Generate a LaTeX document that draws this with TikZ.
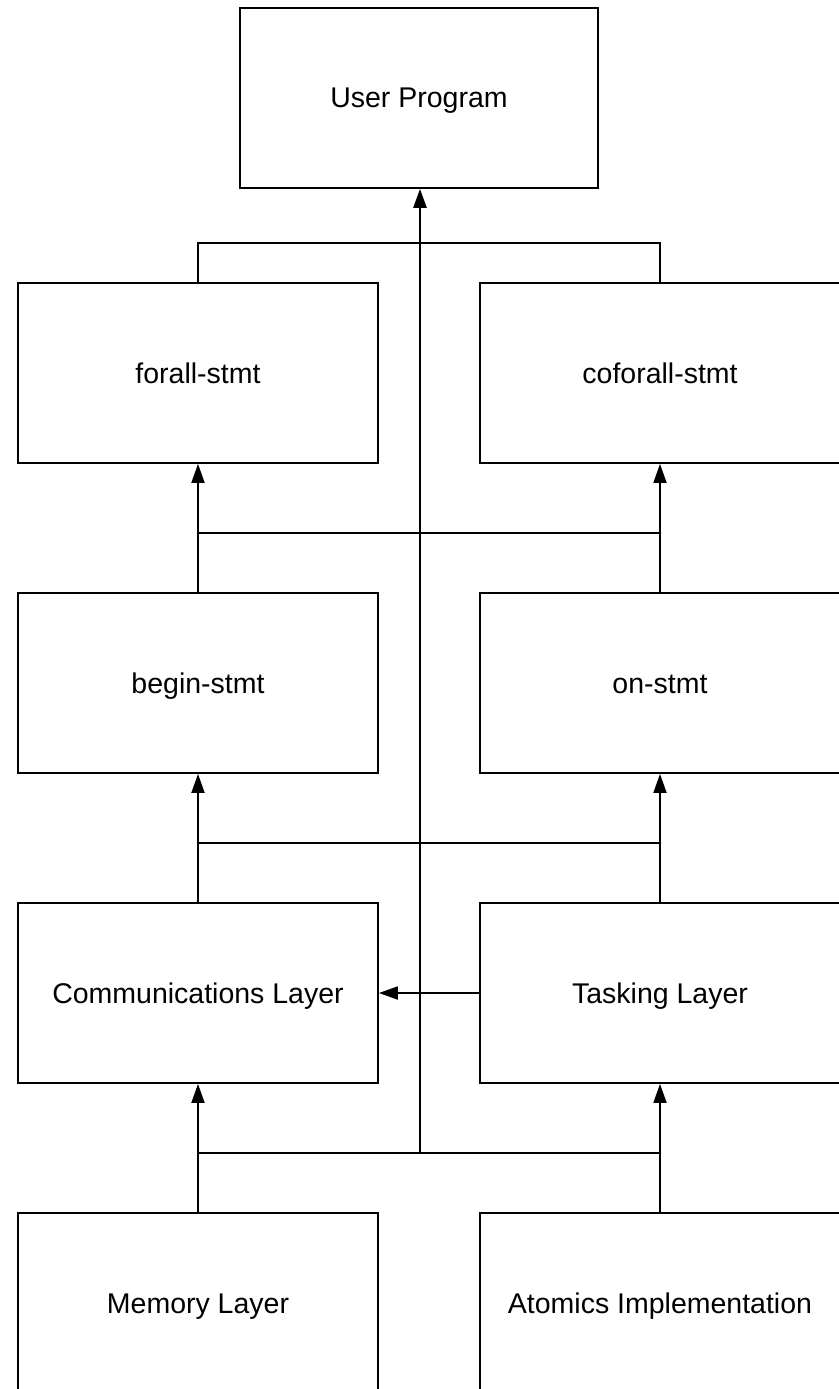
\documentclass[tikz,border=0pt]{standalone}
\usepackage{fontspec}
\setmainfont{Liberation Sans}
\usetikzlibrary{arrows.meta}
\begin{document}
\begin{tikzpicture}[x=1bp,y=-1bp,
  layer/.style={draw, line width=1.8bp, minimum width=360bp, minimum height=180bp,
    inner sep=0pt, text height=24bp, text depth=4bp,
    font=\fontsize{28.5bp}{34bp}\selectfont},
  wire/.style={line width=1.8bp, line join=miter},
  feed/.style={wire, -{Triangle[length=19bp,width=13bp]}},
]
\useasboundingbox (0,0) rectangle (838,1389);

% layers of the runtime stack
\node[layer, minimum width=358bp] (user) at (419,98) {User Program};
\node[layer] (forall)   at (198,373)  {forall-stmt};
\node[layer] (coforall) at (660,373)  {coforall-stmt};
\node[layer] (begin)    at (198,683)  {begin-stmt};
\node[layer] (on)       at (660,683)  {on-stmt};
\node[layer] (comm)     at (198,993)  {Communications Layer};
\node[layer] (task)     at (660,993)  {Tasking Layer};
\node[layer] (mem)      at (198,1303) {Memory Layer};
\node[layer] (atomics)  at (660,1303) {Atomics Implementation};

% junctions of the horizontal buses on the central spine
\coordinate (b0) at (420,243);
\coordinate (b1) at (420,533);
\coordinate (b2) at (420,843);
\coordinate (b3) at (420,1153);

% link between the two loop statements
\draw[wire] (forall.north) -- (forall.north |- b0) -- (coforall.north |- b0) -- (coforall.north);

% bus between begin/on and forall/coforall
\draw[wire] (begin.north) -- (begin.north |- b1) -- (on.north |- b1) -- (on.north);
\draw[feed] (begin.north |- b1) -- (forall.south);
\draw[feed] (on.north |- b1) -- (coforall.south);

% bus between communications/tasking and begin/on
\draw[wire] (comm.north) -- (comm.north |- b2) -- (task.north |- b2) -- (task.north);
\draw[feed] (comm.north |- b2) -- (begin.south);
\draw[feed] (task.north |- b2) -- (on.south);

% bus between memory/atomics and communications/tasking
\draw[wire] (mem.north) -- (mem.north |- b3) -- (atomics.north |- b3) -- (atomics.north);
\draw[feed] (mem.north |- b3) -- (comm.south);
\draw[feed] (atomics.north |- b3) -- (task.south);

% tasking uses communications
\draw[feed] (task.west) -- (comm.east);

% central spine up to the user program
\draw[wire] (b3) -- (b2);
\draw[wire, line width=2.2bp] (b2) -- (b1);
\draw[feed, line width=2.6bp] (b1) -- (user.south -| b1);
\end{tikzpicture}
\end{document}
